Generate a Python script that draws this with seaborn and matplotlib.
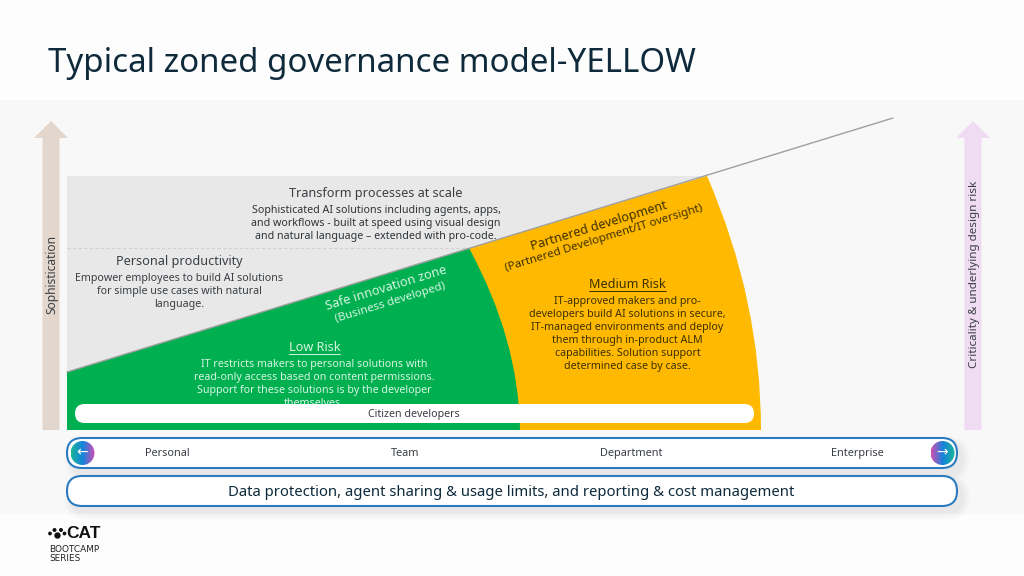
#!/usr/bin/env python3
"""Zoned governance diagram, drawn on a pixel sized axes."""

import numpy as np
import pandas as pd
import matplotlib
matplotlib.use("Agg")
import matplotlib.pyplot as plt
from matplotlib.colors import LinearSegmentedColormap
from matplotlib.patches import Circle, FancyBboxPatch, PathPatch, Polygon, Rectangle
from matplotlib.path import Path
import seaborn as sns

TITLE = "Typical zoned governance model-YELLOW"
SCALE_LABELS = ["Personal", "Team", "Department", "Enterprise"]
FOOTER_BAR = "Data protection, agent sharing & usage limits, and reporting & cost management"
LEFT_AXIS = "Sophistication"
RIGHT_AXIS = "Criticality & underlying design risk"
TOP_HEAD = "Transform processes at scale"
TOP_BODY = ("Sophisticated AI solutions including agents, apps,\n"
            "and workflows - built at speed using visual design\n"
            "and natural language – extended with pro-code.")
PERSONAL_HEAD = "Personal productivity"
PERSONAL_BODY = ("Empower employees to build AI solutions\n"
                 "for simple use cases with natural\nlanguage.")
GREEN_ZONE = ["Safe innovation zone", "(Business developed)"]
ORANGE_ZONE = ["Partnered development", "(Partnered Development/IT oversight)"]
LOW_HEAD = "Low Risk"
LOW_BODY = ("IT restricts makers to personal solutions with\n"
            "read-only access based on content permissions.\n"
            "Support for these solutions is by the developer\nthemselves.")
MEDIUM_HEAD = "Medium Risk"
MEDIUM_BODY = ("IT-approved makers and pro-\n"
               "developers build AI solutions in secure,\n"
               "IT-managed environments and deploy\n"
               "them through in-product ALM\n"
               "capabilities. Solution support\n"
               "determined case by case.")
CITIZEN = "Citizen developers"

GREEN = "#00b050"
ORANGE = "#ffb900"
GRAY = "#e8e8e8"
BLUE = "#2a7bc0"
DARK = "#3a3f44"
NAVY = "#0e2a3b"

sns.set_theme(style="white")
plt.rcParams["font.family"] = ["Noto Sans", "DejaVu Sans"]

fig = plt.figure(figsize=(10.24, 5.76), dpi=100, facecolor="white")
ax = fig.add_axes([0, 0, 1, 1])
ax.set_xlim(0, 1024)
ax.set_ylim(576, 0)
ax.axis("off")


def soft_shadow(x0, y0, x1, y1, spread, alpha, z):
    # stacked translucent boxes, cheap blur
    for i in range(spread):
        g = spread - i
        ax.add_patch(FancyBboxPatch((x0 - g, y0 - g), x1 - x0 + 2 * g, y1 - y0 + 2 * g,
                                    boxstyle=f"round,pad=0,rounding_size={(y1 - y0) / 2 + g}",
                                    fc="black", ec="none", alpha=alpha, zorder=z))


def curved_zone(points, color, z):
    codes = [Path.MOVETO, Path.LINETO, Path.CURVE3, Path.CURVE3, Path.LINETO, Path.CLOSEPOLY]
    ax.add_patch(PathPatch(Path(points, codes), fc=color, ec="none", zorder=z))


def up_arrow(xc, color):
    ax.add_patch(Polygon([(xc - 8.5, 430), (xc - 8.5, 138), (xc - 17, 138), (xc, 121),
                          (xc + 17, 138), (xc + 8.5, 138), (xc + 8.5, 430)],
                         fc=color, ec="none", zorder=2))


def pill(x0, y0, x1, y1, z):
    soft_shadow(x0 + 5, y0 + 6, x1 + 5, y1 + 6, 8, 0.006, z - 0.5)
    ax.add_patch(FancyBboxPatch((x0, y0), x1 - x0, y1 - y0,
                                boxstyle=f"round,pad=0,rounding_size={(y1 - y0) / 2}",
                                fc="white", ec=BLUE, lw=1.5, zorder=z))


def round_button(xc, yc, colors, glyph):
    cmap = LinearSegmentedColormap.from_list("btn", colors)
    img = ax.imshow(np.linspace(0, 1, 64).reshape(1, -1), cmap=cmap, aspect="auto",
                    extent=(xc - 12, xc + 12, yc + 12, yc - 12), zorder=6)
    img.set_clip_path(Circle((xc, yc), 12, transform=ax.transData))
    ax.text(xc, yc - 0.5, glyph, color="white", fontsize=10, ha="center", va="center",
            family="DejaVu Sans", zorder=7)


# page panel with soft edges
ax.add_patch(Rectangle((0, 0), 1024, 576, fc="#fdfdfd", ec="none", zorder=0))
for i in range(12):
    ax.add_patch(Rectangle((0, 98 - i), 1024, 418 + 2 * i, fc="#000000", ec="none",
                           alpha=0.0012, zorder=0.1))
ax.add_patch(Rectangle((0, 100), 1024, 414, fc="#f8f8f8", ec="none", zorder=0.5))

ax.text(48, 63, TITLE, fontsize=23.8, color=NAVY, va="center", ha="left")

# gray field and the two zones under the diagonal
ax.add_patch(Rectangle((67, 176), 640, 254, fc=GRAY, ec="none", zorder=1))
curved_zone([(469, 248), (707, 176), (761, 300), (761, 430), (520, 430), (469, 248)], ORANGE, 2)
curved_zone([(67, 372), (469, 248), (519, 340), (520, 430), (67, 430), (67, 372)], GREEN, 3)

line_df = pd.DataFrame({"x": [67, 893], "y": [372, 118]})
sns.lineplot(data=line_df, x="x", y="y", color="#a0a0a0", lw=1.0, ax=ax, zorder=4)
ax.set_xlim(0, 1024)
ax.set_ylim(576, 0)
ax.plot([67, 469], [248, 248], color="#d2d2d2", lw=0.8, ls=(0, (3, 2)), zorder=1.5)

up_arrow(51, "#e3d6cc")
up_arrow(973, "#efdcf3")
ax.text(51.5, 275, LEFT_AXIS, rotation=90, fontsize=8.6, color=DARK, ha="center", va="center", zorder=5)
ax.text(974, 274.5, RIGHT_AXIS, rotation=90, fontsize=8.4, color=DARK, ha="center", va="center", zorder=5)

# block texts
LS = 1.27
BODY = 7.7
HEAD = 9.1
MUTED_WHITE = "#d6f5e2"
DARK_ON_ORANGE = "#3c3000"
ax.text(376, 193, TOP_HEAD, fontsize=HEAD, color=DARK, ha="center", va="center", zorder=5)
ax.text(376, 223.5, TOP_BODY, fontsize=BODY, color="#2f3438", ha="center", va="center", linespacing=LS, zorder=5)
ax.text(179, 261, PERSONAL_HEAD, fontsize=HEAD, color=DARK, ha="center", va="center", zorder=5)
ax.text(179, 291.5, PERSONAL_BODY, fontsize=BODY, color=DARK, ha="center", va="center", linespacing=LS, zorder=5)
ax.text(386, 288.5, GREEN_ZONE[0], fontsize=9.2, color=MUTED_WHITE, ha="center", va="center", rotation=17.1, zorder=5)
ax.text(390.5, 302.5, GREEN_ZONE[1], fontsize=8.35, color=MUTED_WHITE, ha="center", va="center", rotation=17.1, zorder=5)
ax.text(599, 226, ORANGE_ZONE[0], fontsize=9.1, color=DARK_ON_ORANGE, ha="center", va="center", rotation=17.1, zorder=5)
ax.text(604, 238, ORANGE_ZONE[1], fontsize=8.3, color=DARK_ON_ORANGE, ha="center", va="center", rotation=17.1, zorder=5)
ax.text(314.5, 347.5, LOW_HEAD, fontsize=HEAD, color=MUTED_WHITE, ha="center", va="center", zorder=5)
ax.plot([289, 340], [354, 354], color=MUTED_WHITE, lw=0.7, zorder=5)
ax.text(314, 384, LOW_BODY, fontsize=BODY, color=MUTED_WHITE, ha="center", va="center", linespacing=LS, zorder=5)
ax.text(627.5, 284.5, MEDIUM_HEAD, fontsize=HEAD, color=DARK_ON_ORANGE, ha="center", va="center", zorder=5)
ax.plot([589, 666], [291, 291], color=DARK_ON_ORANGE, lw=0.7, zorder=5)
ax.text(627.5, 334, MEDIUM_BODY, fontsize=BODY, color=DARK_ON_ORANGE, ha="center", va="center", linespacing=LS, zorder=5)

# citizen pill sits on top of the zone text
ax.add_patch(FancyBboxPatch((75, 404), 679, 19, boxstyle="round,pad=0,rounding_size=9.5",
                            fc="white", ec="none", zorder=6))
ax.text(414, 414, CITIZEN, fontsize=7.7, color=DARK, ha="center", va="center", zorder=7)

# bottom bars
pill(67, 438, 957, 468, 5)
pill(67, 476, 957, 506, 5)
for label, xc in zip(SCALE_LABELS, (167, 405.5, 631.5, 857.5)):
    ax.text(xc, 453.5, label, fontsize=7.9, color=DARK, ha="center", va="center", zorder=6)
ax.text(511.5, 492.5, FOOTER_BAR, fontsize=10.7, color=NAVY, ha="center", va="center", zorder=6)
round_button(82.5, 453, ["#1bb59a", "#1583dc", "#d24fb5"], "←")
round_button(942.5, 453, ["#d24fb5", "#1583dc", "#1bb59a"], "→")

# logo
for px, py, r in ((50, 533.5, 1.9), (54.5, 530, 2.0), (61, 530, 2.0), (64.5, 533.5, 1.9),
                  (57.5, 535.5, 3.2)):
    ax.add_patch(Circle((px, py), r, fc="#111111", ec="none", zorder=3))
ax.text(66.5, 534, "CAT", fontsize=12.5, fontweight="bold", color="#111111", ha="left", va="center",
        family="Liberation Sans", zorder=3)
ax.text(49, 549.5, "BOOTCAMP", fontsize=6.4, color="#222222", ha="left", va="center", family="DejaVu Sans")
ax.text(49, 558.5, "SERIES", fontsize=6.4, color="#222222", ha="left", va="center", family="DejaVu Sans")

fig.savefig("out.png", dpi=100, facecolor="white")
